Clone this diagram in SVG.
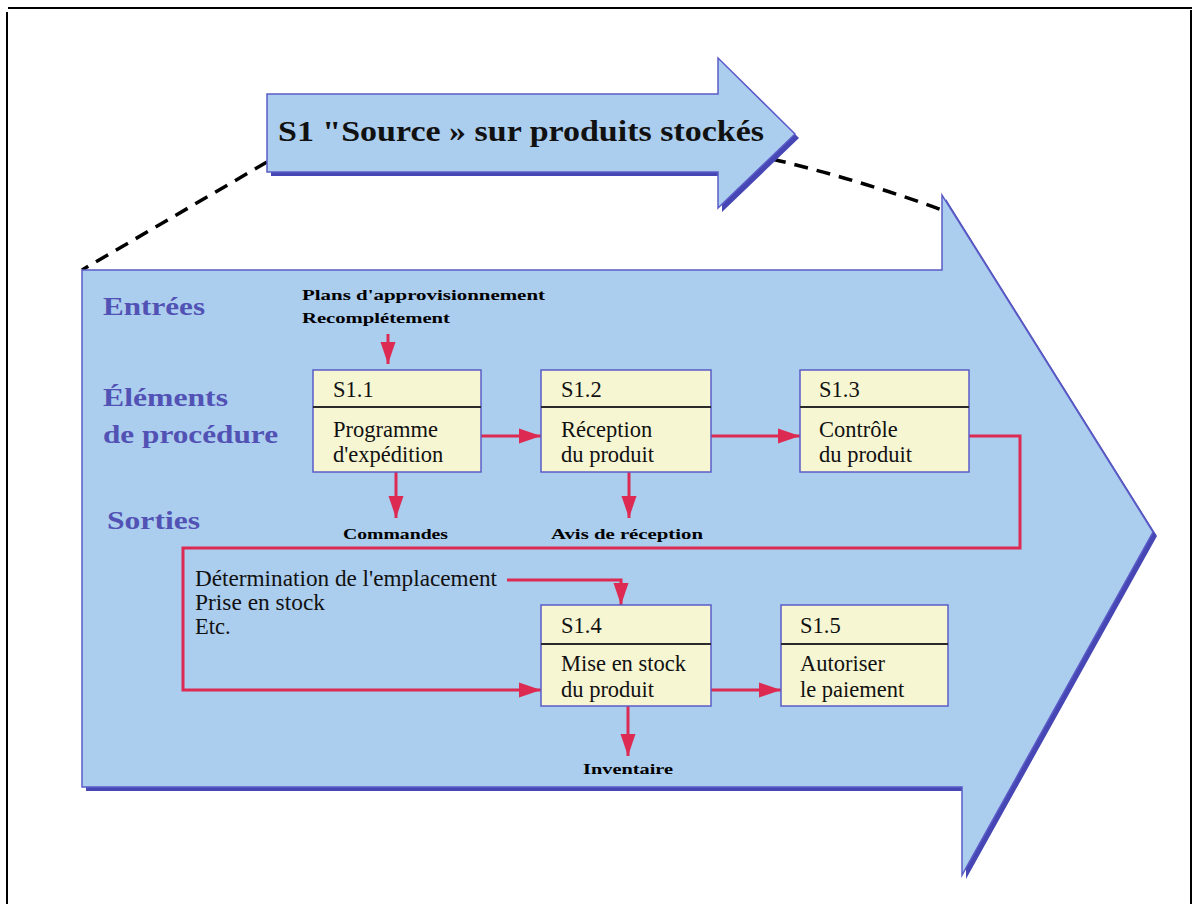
<svg xmlns="http://www.w3.org/2000/svg" width="1192" height="904" viewBox="0 0 1192 904">
  <style>
    .frame { stroke: #000; stroke-width: 2; fill: none; }
    .dash { stroke: #000; stroke-width: 3.5; fill: none; stroke-dasharray: 14 9; }
    .shadow { fill: #4646b4; }
    .band { fill: #abcdee; stroke: #5c5cc8; stroke-width: 1.5; }
    .box { fill: #f7f6d3; stroke: #5c5cc8; stroke-width: 1.5; }
    .divider { stroke: #2a2a2a; stroke-width: 2; }
    .flow { stroke: #dc2a52; stroke-width: 3; fill: none; }
    .title { font-family: "Liberation Serif", serif; font-weight: bold; font-size: 29px; fill: #111; }
    .side { font-family: "Liberation Serif", serif; font-weight: bold; font-size: 26px; fill: #5252b5; }
    .small { font-family: "Liberation Serif", serif; font-weight: bold; font-size: 15.5px; fill: #000; }
    .body { font-family: "Liberation Serif", serif; font-size: 22.5px; fill: #111; }
  </style>
  <defs>
    <marker id="head" markerUnits="userSpaceOnUse" markerWidth="22" markerHeight="18" refX="22" refY="9" orient="auto">
      <path d="M0,1.5 L22,9 L0,16.5 z" fill="#dc2a52"/>
    </marker>
  </defs>

  <!-- page frame -->
  <g id="frame">
    <line class="frame" x1="8" y1="8" x2="1192" y2="8"/>
    <line class="frame" x1="7" y1="12" x2="7" y2="904"/>
    <line class="frame" x1="1191" y1="10" x2="1191" y2="904"/>
  </g>

  <!-- zoom guides from the process arrow to the detail band -->
  <g id="guides">
    <path class="dash" d="M267,162 L82,270"/>
    <path class="dash" d="M772,159 Q860,180 942,210"/>
  </g>

  <!-- detail band (large arrow) -->
  <g id="band">
    <polygon class="shadow" points="86,274 946,274 946,199 1157,536 966,879 966,791 86,791"/>
    <polygon class="band" points="82,270 942,270 942,195 1153,532 962,875 962,787 82,787"/>
  </g>

  <!-- process arrow -->
  <g id="process">
    <polygon class="shadow" points="271,98 722,98 722,62 799,138 722,212 722,176 271,176"/>
    <polygon class="band" points="267,94 718,94 718,58 795,134 718,208 718,172 267,172"/>
    <text class="title" x="278" y="141" textLength="486" lengthAdjust="spacingAndGlyphs">S1 "Source » sur produits stockés</text>
  </g>

  <!-- row labels -->
  <g id="row-labels">
    <text class="side" x="103" y="315" textLength="102" lengthAdjust="spacingAndGlyphs">Entrées</text>
    <text class="side" x="103" y="406" textLength="125" lengthAdjust="spacingAndGlyphs">Éléments</text>
    <text class="side" x="103" y="443" textLength="175" lengthAdjust="spacingAndGlyphs">de procédure</text>
    <text class="side" x="107" y="529" textLength="93" lengthAdjust="spacingAndGlyphs">Sorties</text>
  </g>

  <!-- inputs and outputs -->
  <g id="io-labels">
    <text class="small" x="302" y="300" textLength="243" lengthAdjust="spacingAndGlyphs">Plans d'approvisionnement</text>
    <text class="small" x="302" y="323" textLength="148" lengthAdjust="spacingAndGlyphs">Recomplétement</text>
    <text class="small" x="343" y="539" textLength="105" lengthAdjust="spacingAndGlyphs">Commandes</text>
    <text class="small" x="551" y="539" textLength="152" lengthAdjust="spacingAndGlyphs">Avis de réception</text>
    <text class="small" x="583" y="774" textLength="90" lengthAdjust="spacingAndGlyphs">Inventaire</text>
    <text class="body" x="195" y="586" textLength="302" lengthAdjust="spacingAndGlyphs">Détermination de l'emplacement</text>
    <text class="body" x="195" y="610" textLength="130" lengthAdjust="spacingAndGlyphs">Prise en stock</text>
    <text class="body" x="195" y="634">Etc.</text>
  </g>

  <!-- connectors -->
  <g id="connectors">
    <line class="flow" x1="388" y1="334" x2="388" y2="364" marker-end="url(#head)"/>
    <line class="flow" x1="481" y1="436" x2="541" y2="436" marker-end="url(#head)"/>
    <line class="flow" x1="711" y1="436" x2="800" y2="436" marker-end="url(#head)"/>
    <line class="flow" x1="396" y1="472" x2="396" y2="518" marker-end="url(#head)"/>
    <line class="flow" x1="629" y1="472" x2="629" y2="518" marker-end="url(#head)"/>
    <path class="flow" d="M969,436 H1020 V548 H183 V690 H541" marker-end="url(#head)"/>
    <path class="flow" d="M507,580 H621 V605" marker-end="url(#head)"/>
    <line class="flow" x1="711" y1="690" x2="781" y2="690" marker-end="url(#head)"/>
    <line class="flow" x1="628" y1="706" x2="628" y2="756" marker-end="url(#head)"/>
  </g>

  <!-- process steps -->
  <g id="s1-1">
    <rect class="box" x="313" y="370" width="168" height="102"/>
    <line class="divider" x1="313" y1="407" x2="481" y2="407"/>
    <text class="body" x="333" y="397">S1.1</text>
    <text class="body" x="333" y="437">Programme</text>
    <text class="body" x="333" y="462">d'expédition</text>
  </g>
  <g id="s1-2">
    <rect class="box" x="541" y="370" width="170" height="102"/>
    <line class="divider" x1="541" y1="407" x2="711" y2="407"/>
    <text class="body" x="561" y="397">S1.2</text>
    <text class="body" x="561" y="437">Réception</text>
    <text class="body" x="561" y="462">du produit</text>
  </g>
  <g id="s1-3">
    <rect class="box" x="800" y="370" width="169" height="102"/>
    <line class="divider" x1="800" y1="407" x2="969" y2="407"/>
    <text class="body" x="819" y="397">S1.3</text>
    <text class="body" x="819" y="437">Contrôle</text>
    <text class="body" x="819" y="462">du produit</text>
  </g>
  <g id="s1-4">
    <rect class="box" x="541" y="605" width="170" height="101"/>
    <line class="divider" x1="541" y1="644" x2="711" y2="644"/>
    <text class="body" x="561" y="633">S1.4</text>
    <text class="body" x="561" y="671">Mise en stock</text>
    <text class="body" x="561" y="697">du produit</text>
  </g>
  <g id="s1-5">
    <rect class="box" x="781" y="605" width="167" height="101"/>
    <line class="divider" x1="781" y1="644" x2="948" y2="644"/>
    <text class="body" x="800" y="633">S1.5</text>
    <text class="body" x="800" y="671">Autoriser</text>
    <text class="body" x="800" y="697">le paiement</text>
  </g>
</svg>
